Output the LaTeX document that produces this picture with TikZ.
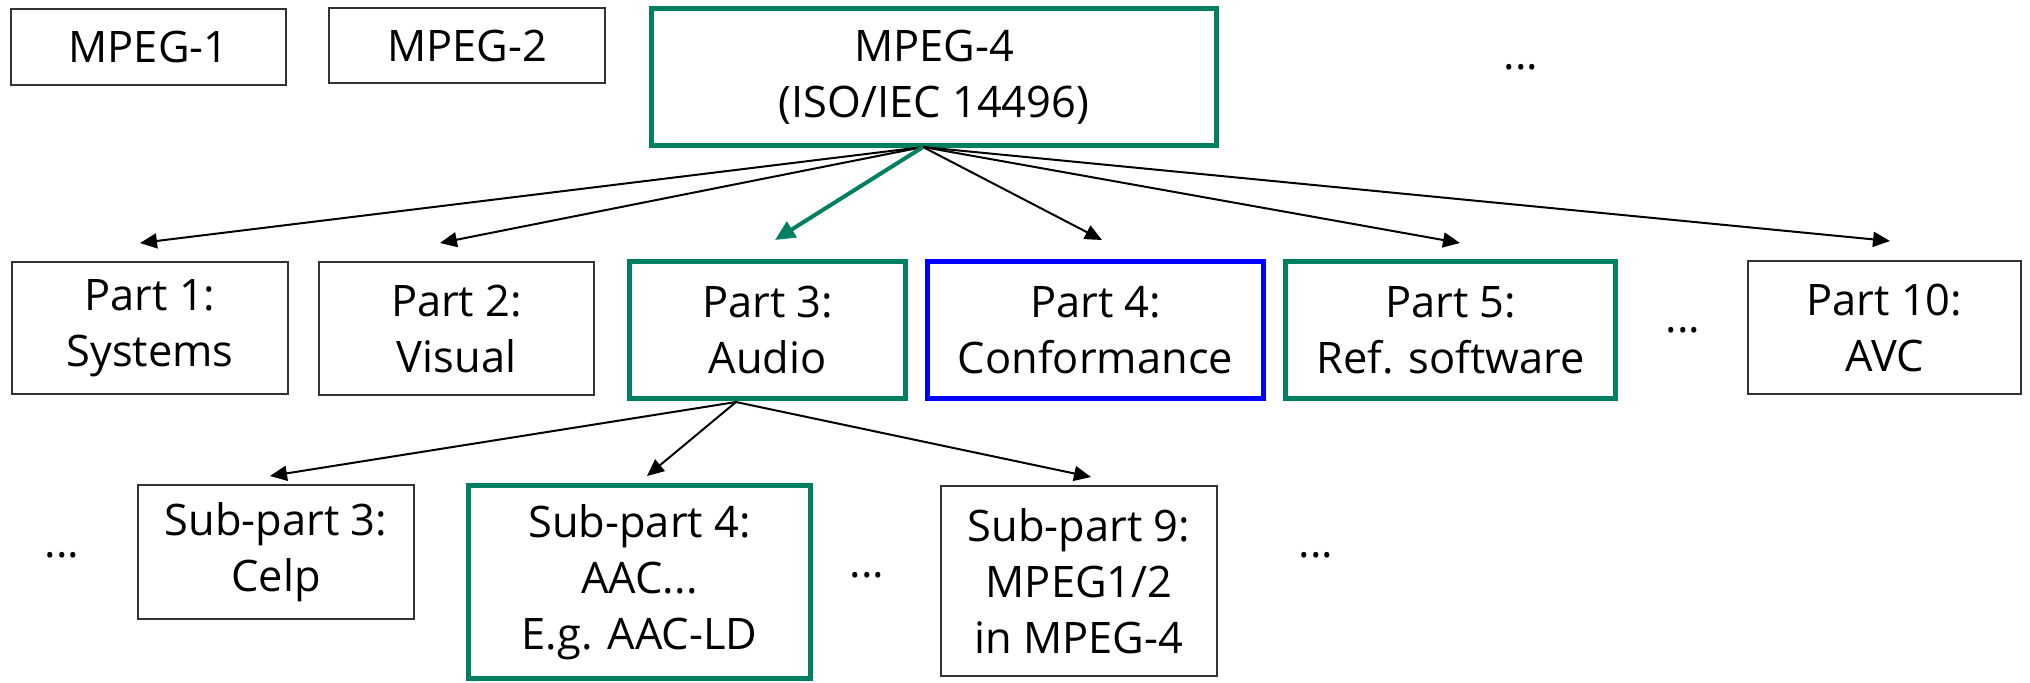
\documentclass[tikz,border=0pt]{standalone}
\usepackage{fontspec}
\setmainfont{Open Sans}
\usetikzlibrary{arrows.meta,calc}
\definecolor{fgreen}{RGB}{0,128,96}
\definecolor{fblue}{RGB}{0,0,255}

\begin{document}
\begin{tikzpicture}[x=0.5pt,y=-0.5pt,
  font=\fontsize{21.7}{28}\selectfont,
  plain/.style={draw=black!80, line width=0.9pt, align=center, inner sep=0pt},
  hilite/.style={draw=fgreen, line width=2.5pt, align=center, inner sep=0pt},
  confbox/.style={draw=fblue, line width=2.5pt, align=center, inner sep=0pt},
  link/.style={draw=black, line width=1pt, -{Triangle[length=8.5pt,width=7.5pt]}},
  keylink/.style={draw=fgreen, line width=2pt, -{Triangle[length=10pt,width=9pt]}},
  more/.style={inner sep=0pt}
]
\useasboundingbox (0,0) rectangle (2030,682);

% top row: the MPEG families
\node[plain, minimum width=137.5pt, minimum height=38pt] (m1) at (148.5,47) {MPEG-1};
\node[plain, minimum width=138pt, minimum height=37.5pt] (m2) at (467,45.5) {MPEG-2};
\node[hilite, minimum width=282.5pt, minimum height=68.5pt] (m4) at (934,77) {MPEG-4\\(ISO/IEC 14496)};
\node[more] (dtop) at (1521,67) {...};

% middle row: parts of MPEG-4
\node[plain, minimum width=138pt, minimum height=66pt] (p1) at (150,328) {Part 1:\\Systems};
\node[plain, minimum width=137.5pt, minimum height=66.5pt] (p2) at (456.5,328.5) {Part 2:\\Visual};
\node[hilite, minimum width=138pt, minimum height=68.5pt] (p3) at (767.5,330) {Part 3:\\Audio};
\node[confbox, minimum width=168pt, minimum height=68.5pt] (p4) at (1095.5,330) {Part 4:\\Conformance};
\node[hilite, minimum width=165pt, minimum height=68.5pt] (p5) at (1450.5,330) {Part 5:\\Ref. software};
\node[more] (dmid) at (1683,330) {...};
\node[plain, minimum width=136.5pt, minimum height=66.5pt] (p10) at (1884.5,327.5) {Part 10:\\AVC};

% bottom row: sub-parts of the audio part
\node[more] (dleft) at (62,555) {...};
\node[plain, minimum width=138pt, minimum height=67pt] (s3) at (276,552) {Sub-part 3:\\Celp};
\node[hilite, minimum width=171pt, minimum height=96.5pt] (s4) at (639.5,582) {Sub-part 4:\\AAC...\\E.g. AAC-LD};
\node[more] (dsub) at (867,575) {...};
\node[plain, minimum width=138pt, minimum height=95pt] (s9) at (1079,581) {Sub-part 9:\\MPEG1/2\\in MPEG-4};
\node[more] (dright) at (1316,555) {...};

% connector end points
\coordinate (m4out) at (923,147);
\coordinate (p1in) at (140,243);
\coordinate (p2in) at (440,243);
\coordinate (p3in) at (775,240);
\coordinate (p4in) at (1102,240);
\coordinate (p5in) at (1460,243);
\coordinate (p10in) at (1890,241);
\coordinate (p3out) at (736,402);
\coordinate (s3in) at (270,476);
\coordinate (s4in) at (647,476);
\coordinate (s9in) at (1091,477);

% MPEG-4 to its parts
\draw[link] (m4out) -- (p1in);
\draw[link] (m4out) -- (p2in);
\draw[link] (m4out) -- (p4in);
\draw[link] (m4out) -- (p5in);
\draw[link] (m4out) -- (p10in);
\draw[keylink] (m4out) -- (p3in);

% audio part to its sub-parts
\draw[link] (p3out) -- (s3in);
\draw[link] (p3out) -- (s4in);
\draw[link] (p3out) -- (s9in);
\end{tikzpicture}
\end{document}
